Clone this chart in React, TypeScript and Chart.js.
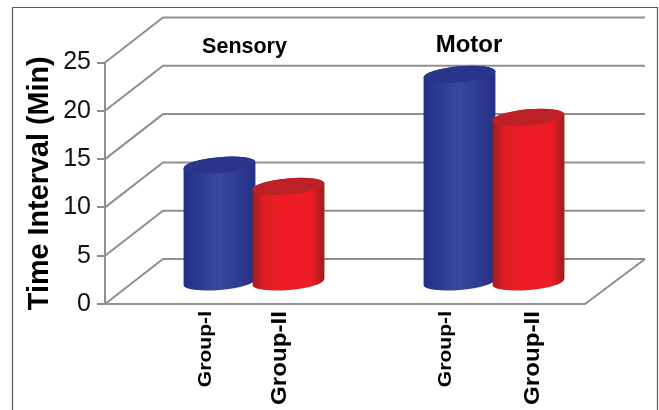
import React, { useEffect, useRef } from "react";
import { Chart, registerables } from "chart.js";

Chart.register(...registerables);

const categories = ["Sensory", "Motor"];
const groupOne = [12.2, 21.6];
const groupTwo = [10, 17.15];
const seriesNames = ["Group-I", "Group-II"];
const yTicks = { min: 0, max: 25, stepSize: 5 };

const FONT = '"Liberation Sans", Arial, sans-serif';
const GRID = "#8f8f8f";
const DEPTH_X = 58;
const DEPTH_Y = 45;
const CYL_DX = 29;
const CYL_DY = 21;
const TILT = (-5 * Math.PI) / 180;
const RY = 8;

const bodyStops = [
  [
    [0, "#242f82"],
    [0.18, "#2a3890"],
    [0.5, "#384a9c"],
    [0.82, "#2a3890"],
    [1, "#242f82"],
  ],
  [
    [0, "#9c1c20"],
    [0.14, "#d81f26"],
    [0.35, "#ed1c24"],
    [0.82, "#ed1c24"],
    [1, "#9c1c20"],
  ],
] as [number, string][][];
const topColors = ["#2b348b", "#bd2025"];

const labelStyle = [
  { size: 19, stretch: 1.11, shift: [20, 20] },
  { size: 22, stretch: 1.1, shift: [26.5, 39.5] },
];
const headStyle = [
  { size: 21.5, x: 244.5, y: 53 },
  { size: 24, x: 469, y: 52 },
];

const scene = {
  id: "scene",
  beforeDraw(chart: any) {
    const ctx = chart.ctx;
    ctx.save();
    ctx.strokeStyle = "#5a5a5a";
    ctx.lineWidth = 1.2;
    ctx.beginPath();
    ctx.moveTo(12.5, 410);
    ctx.lineTo(12.5, 7.5);
    ctx.lineTo(657.5, 7.5);
    ctx.lineTo(657.5, 410);
    ctx.stroke();
    ctx.restore();
  },
  beforeDatasetsDraw(chart: any) {
    const { ctx, chartArea: a, scales } = chart;
    const y = scales.y;
    ctx.save();
    ctx.strokeStyle = GRID;
    ctx.lineWidth = 2;
    ctx.beginPath();
    y.ticks.forEach((t: any) => {
      const py = y.getPixelForValue(t.value);
      ctx.moveTo(a.left, py);
      ctx.lineTo(a.left + DEPTH_X, py - DEPTH_Y);
      ctx.lineTo(a.right + DEPTH_X + 2, py - DEPTH_Y);
    });
    const py0 = y.getPixelForValue(0);
    ctx.moveTo(a.right, py0);
    ctx.lineTo(a.right + DEPTH_X + 2, py0 - DEPTH_Y);
    ctx.stroke();
    ctx.restore();
  },
  afterDatasetsDraw(chart: any) {
    const ctx = chart.ctx;
    chart.data.datasets.forEach((_: any, di: number) => {
      const els = chart.getDatasetMeta(di).data;
      els.forEach((el: any, i: number) => {
        const cx = el.x + CYL_DX;
        const rx = el.width / 2;
        const top = el.y - CYL_DY;
        const bot = el.base - CYL_DY;
        const ex = rx * Math.cos(TILT);
        const ey = rx * Math.sin(TILT);
        const g = ctx.createLinearGradient(cx - rx, 0, cx + rx, 0);
        bodyStops[di].forEach(([o, c]) => g.addColorStop(o, c));
        ctx.save();
        ctx.beginPath();
        ctx.ellipse(cx, bot, rx, RY, TILT, Math.PI, 0, true);
        ctx.lineTo(cx + ex, top + ey);
        ctx.ellipse(cx, top, rx, RY, TILT, 0, Math.PI, true);
        ctx.closePath();
        ctx.fillStyle = g;
        ctx.fill();
        ctx.beginPath();
        ctx.ellipse(cx, top, rx, RY, TILT, 0, Math.PI * 2);
        ctx.fillStyle = topColors[di];
        ctx.fill();
        ctx.restore();

        // rotated group label under each cylinder
        const st = labelStyle[di];
        ctx.save();
        ctx.translate(el.x + st.shift[i], 311);
        ctx.rotate(-Math.PI / 2);
        ctx.scale(st.stretch, 1);
        ctx.font = `bold ${st.size}px ${FONT}`;
        ctx.fillStyle = "#000";
        ctx.textAlign = "right";
        ctx.textBaseline = "alphabetic";
        ctx.fillText(chart.data.datasets[di].label, 0, 0);
        ctx.restore();
      });
    });
    // category headings
    categories.forEach((c, i) => {
      const h = headStyle[i];
      ctx.save();
      ctx.font = `bold ${h.size}px ${FONT}`;
      ctx.fillStyle = "#000";
      ctx.textAlign = "center";
      ctx.textBaseline = "alphabetic";
      ctx.fillText(c, h.x, h.y);
      ctx.restore();
    });
  },
};

export default function App() {
  const ref = useRef<HTMLCanvasElement>(null);
  useEffect(() => {
    const chart = new Chart(ref.current!, {
      type: "bar",
      data: {
        labels: categories,
        datasets: [
          { label: seriesNames[0], data: groupOne, backgroundColor: "transparent" },
          { label: seriesNames[1], data: groupTwo, backgroundColor: "transparent" },
        ],
      },
      plugins: [scene],
      options: {
        animation: false,
        responsive: false,
        devicePixelRatio: 1,
        categoryPercentage: 0.575,
        barPercentage: 1.045,
        layout: { padding: { left: 0, top: 62.5, right: 74, bottom: 0 } },
        plugins: { legend: { display: false }, tooltip: { enabled: false }, title: { display: false } },
        scales: {
          x: {
            ticks: { display: false },
            grid: { display: false },
            border: { display: true, color: GRID, width: 2 },
            afterFit(s: any) {
              s.height = 106;
            },
          },
          y: {
            min: yTicks.min,
            max: yTicks.max,
            ticks: {
              stepSize: yTicks.stepSize,
              color: "#111",
              padding: 6,
              font: { family: FONT, size: 25 },
            },
            grid: { drawOnChartArea: false, drawTicks: true, tickLength: 8, color: GRID, lineWidth: 2 },
            border: { display: true, color: GRID, width: 2 },
            title: {
              display: true,
              text: "Time Interval (Min)",
              color: "#000",
              font: { family: FONT, size: 28.8, weight: "bold" },
              padding: { top: 23, bottom: 0 },
            },
            afterFit(s: any) {
              s.width = 105;
            },
          },
        },
      },
    } as any);
    return () => chart.destroy();
  }, []);
  return (
    <div style={{ position: "fixed", left: 0, top: 0, width: 659, height: 410, background: "#fff" }}>
      <canvas ref={ref} width={659} height={410} style={{ display: "block" }} />
    </div>
  );
}
